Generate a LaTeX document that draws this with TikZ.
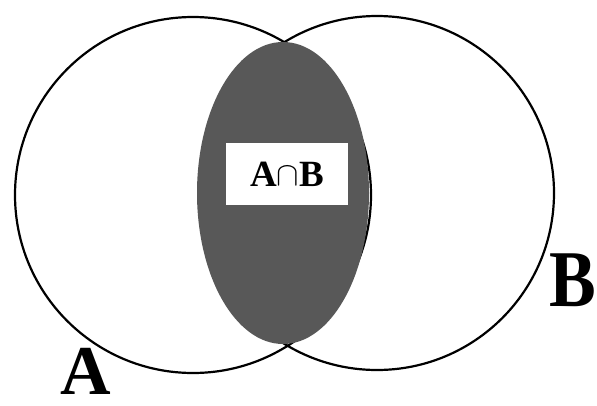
\documentclass[tikz,border=0pt]{standalone}
\usepackage{fontspec}
\setmainfont{Liberation Serif}
\begin{document}
\begin{tikzpicture}[x=1pt,y=-1pt,
  ring/.style={draw=black,line width=2.2pt},
  lens/.style={fill={rgb,255:red,88;green,88;blue,88}},
  bigletter/.style={font=\bfseries\fontsize{70}{70}\selectfont,inner sep=0pt,anchor=north west},
  labelbox/.style={fill=white,minimum width=122pt,minimum height=62pt,inner sep=0pt,font=\bfseries\fontsize{37}{37}\selectfont}]
\useasboundingbox (0,0) rectangle (597,405);
\coordinate (cA) at (193,195);
\coordinate (cB) at (377,193);
\draw[ring] (cA) circle[radius=178];
\draw[ring] (cB) circle[radius=177];
\fill[lens] (283,193) ellipse[x radius=86, y radius=151];
\node[labelbox] (ab) at (287,174) {A\raisebox{0.5pt}{\scalebox{1.35}{$\cap$}}B};
\node[bigletter] (la) at (60,348) {A};
\node[bigletter,yscale=1.15] (lb) at (549,254) {B};
\end{tikzpicture}
\end{document}
